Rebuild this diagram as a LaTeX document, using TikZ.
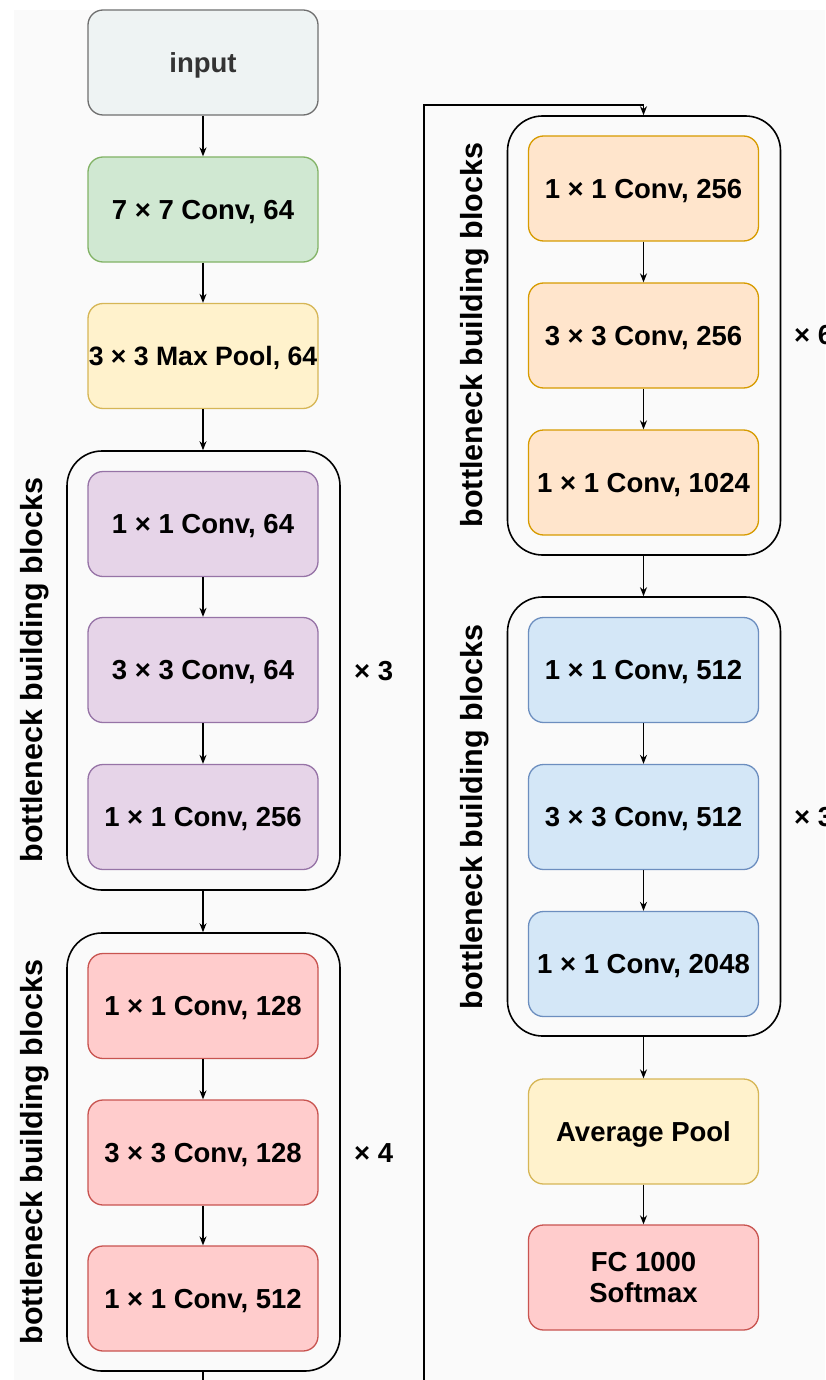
\documentclass[tikz,border=0pt]{standalone}
\usepackage{fontspec}
\setmainfont{Liberation Sans}
\usetikzlibrary{arrows.meta}

\definecolor{pagebg}{HTML}{FAFAFA}
\definecolor{inputfill}{HTML}{EEF3F3}
\definecolor{inputdraw}{HTML}{6F6F6F}
\definecolor{greenfill}{HTML}{D0E8D2}
\definecolor{greendraw}{HTML}{82B366}
\definecolor{yellowfill}{HTML}{FFF2CC}
\definecolor{yellowdraw}{HTML}{D6B656}
\definecolor{purplefill}{HTML}{E6D4E8}
\definecolor{purpledraw}{HTML}{9673A6}
\definecolor{redfill}{HTML}{FFCCCC}
\definecolor{reddraw}{HTML}{C85450}
\definecolor{orangefill}{HTML}{FFE5CC}
\definecolor{orangedraw}{HTML}{D79B00}
\definecolor{bluefill}{HTML}{D4E7F7}
\definecolor{bluedraw}{HTML}{6C8EBF}

\tikzset{
  layerbase/.style={rectangle, rounded corners=15pt, line width=1.3pt,
    minimum width=230pt, minimum height=105pt, inner sep=0pt, align=center,
    font=\fontsize{27.5}{32}\selectfont\bfseries},
  layer/.style={layerbase, text height=19.5pt, text depth=0pt},
  inputbox/.style={layer, fill=inputfill, draw=inputdraw, text=black!80},
  greenbox/.style={layer, fill=greenfill, draw=greendraw},
  yellowbox/.style={layer, fill=yellowfill, draw=yellowdraw},
  purplebox/.style={layer, fill=purplefill, draw=purpledraw},
  redbox/.style={layer, fill=redfill, draw=reddraw},
  orangebox/.style={layer, fill=orangefill, draw=orangedraw},
  bluebox/.style={layer, fill=bluefill, draw=bluedraw},
  headbox/.style={layerbase, fill=redfill, draw=reddraw},
  group/.style={rectangle, rounded corners=35pt, draw=black, line width=1.6pt,
    minimum width=273pt, minimum height=439pt, inner sep=0pt},
  grouplabel/.style={rotate=90, font=\fontsize{30.5}{34}\selectfont\bfseries},
  repeatlabel/.style={anchor=west, inner sep=0pt, text height=19.5pt, text depth=0pt,
    font=\fontsize{27.5}{32}\selectfont\bfseries},
  flow/.style={draw=black, line width=1.3pt, -{Stealth[length=9pt,width=7pt]}}
}

\begin{document}
\begin{tikzpicture}[x=1pt, y=-1pt]
  \useasboundingbox (0,0) rectangle (825,1380);
  \clip (0,0) rectangle (825,1380);
  \fill[pagebg] (14,10) rectangle (825,1380);

  % stem
  \node[inputbox]  (input)   at (203,62.5)  {input};
  \node[greenbox]  (conv7)   at (203,209.5) {7 × 7 Conv, 64};
  \node[yellowbox, font=\fontsize{26.6}{31}\selectfont\bfseries, text height=19pt]
    (maxpool) at (203,356) {3 × 3 Max Pool, 64};

  % stage 1
  \node[group] (stage1) at (203.5,670.5) {};
  \node[purplebox] (s1a) at (203,524) {1 × 1 Conv, 64};
  \node[purplebox] (s1b) at (203,670) {3 × 3 Conv, 64};
  \node[purplebox] (s1c) at (203,817) {1 × 1 Conv, 256};
  \node[grouplabel] (s1label) at (35,670) {bottleneck building blocks};
  \node[repeatlabel] (s1rep) at (354,671) {× 3};

  % stage 2
  \node[group, minimum height=438pt] (stage2) at (203.5,1152) {};
  \node[redbox] (s2a) at (203,1006)   {1 × 1 Conv, 128};
  \node[redbox] (s2b) at (203,1152.5) {3 × 3 Conv, 128};
  \node[redbox] (s2c) at (203,1298.5) {1 × 1 Conv, 512};
  \node[grouplabel] (s2label) at (35,1152) {bottleneck building blocks};
  \node[repeatlabel] (s2rep) at (354,1153) {× 4};

  % stage 3
  \node[group] (stage3) at (644,335.5) {};
  \node[orangebox] (s3a) at (643.5,188.5) {1 × 1 Conv, 256};
  \node[orangebox] (s3b) at (643.5,335.5) {3 × 3 Conv, 256};
  \node[orangebox] (s3c) at (643.5,482.5) {1 × 1 Conv, 1024};
  \node[grouplabel] (s3label) at (475,335) {bottleneck building blocks};
  \node[repeatlabel] (s3rep) at (794,335) {× 6};

  % stage 4
  \node[group] (stage4) at (644,816.5) {};
  \node[bluebox] (s4a) at (643.5,670) {1 × 1 Conv, 512};
  \node[bluebox] (s4b) at (643.5,817) {3 × 3 Conv, 512};
  \node[bluebox] (s4c) at (643.5,964) {1 × 1 Conv, 2048};
  \node[grouplabel] (s4label) at (475,817) {bottleneck building blocks};
  \node[repeatlabel] (s4rep) at (794,817) {× 3};

  % head
  \node[yellowbox] (avgpool) at (643.5,1131.5) {Average Pool};
  \node[headbox]   (fc)      at (643.5,1277.5) {FC 1000\\[-1pt]Softmax};

  % connectors
  \draw[flow] (input) -- (conv7);
  \draw[flow] (conv7) -- (maxpool);
  \draw[flow] (maxpool) -- (maxpool |- stage1.north);
  \draw[flow] (s1a) -- (s1b);
  \draw[flow] (s1b) -- (s1c);
  \draw[flow] (s1c |- stage1.south) -- (s1c |- stage2.north);
  \draw[flow] (s2a) -- (s2b);
  \draw[flow] (s2b) -- (s2c);

  \coordinate (lowturn)  at (424,1420);
  \coordinate (highturn) at (424,105);
  \draw[flow] (s2c |- stage2.south) |- (lowturn) -- (highturn) -| (s3a |- stage3.north);

  \draw[flow] (s3a) -- (s3b);
  \draw[flow] (s3b) -- (s3c);
  \draw[flow] (s3c |- stage3.south) -- (s3c |- stage4.north);
  \draw[flow] (s4a) -- (s4b);
  \draw[flow] (s4b) -- (s4c);
  \draw[flow] (s4c |- stage4.south) -- (avgpool);
  \draw[flow] (avgpool) -- (fc);
\end{tikzpicture}
\end{document}
